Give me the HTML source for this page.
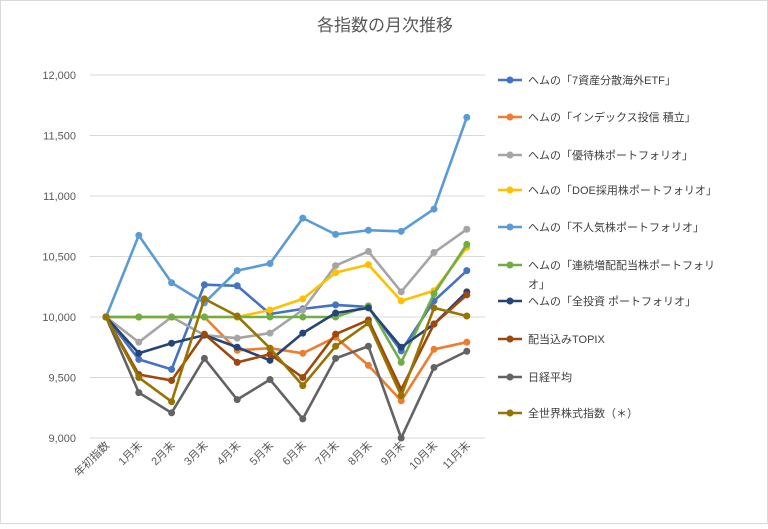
<!DOCTYPE html>
<html><head><meta charset="utf-8"><style>
body{margin:0;background:#fff}
svg text{font-family:"Liberation Sans","Noto Sans CJK JP",sans-serif}
</style></head><body>
<svg width="768" height="524" xmlns="http://www.w3.org/2000/svg">
<rect x="0.5" y="0.5" width="767" height="523" fill="#fff" stroke="#d9d9d9"/>
<text x="385" y="31" text-anchor="middle" font-size="17" fill="#595959">各指数の月次推移</text>
<g id="grid"></g><g id="xl"></g><g id="series"></g><g id="legend"></g>
</svg>
<script>
const categories=["年初指数","1月末","2月末","3月末","4月末","5月末","6月末","7月末","8月末","9月末","10月末","11月末"];
const yTicks=[9000,9500,10000,10500,11000,11500,12000];
const seriesNames=["ヘムの「7資産分散海外ETF」","ヘムの「インデックス投信 積立」","ヘムの「優待株ポートフォリオ」","ヘムの「DOE採用株ポートフォリオ」","ヘムの「不人気株ポートフォリオ」","ヘムの「連続増配配当株ポートフォリオ」","ヘムの「全投資 ポートフォリオ」","配当込みTOPIX","日経平均","全世界株式指数（＊）"];
const colors=["#4472C4","#ED7D31","#A5A5A5","#FFC000","#5B9BD5","#70AD47","#264478","#9E480E","#636363","#997300"];
const s0=[10000,9650,9567,10267,10258,10025,10067,10100,10083,9720,10133,10383];
const s1=[10000,10000,10000,10000,9725,9742,9700,9833,9600,9308,9733,9792];
const s2=[10000,9792,10000,9850,9825,9867,10058,10425,10542,10208,10533,10725];
const s3=[10000,10000,10000,10000,10000,10058,10150,10367,10433,10133,10217,10575];
const s4=[10000,10675,10283,10117,10383,10442,10817,10683,10717,10708,10892,11650];
const s5=[10000,10000,10000,10000,10000,10000,10000,10000,10092,9625,10192,10600];
const s6=[10000,9700,9783,9850,9750,9642,9867,10033,10075,9750,9942,10208];
const s7=[10000,9525,9475,9858,9625,9692,9500,9858,9975,9400,9942,10183];
const s8=[10000,9375,9208,9658,9317,9483,9158,9658,9758,9000,9583,9717];
const s9=[10000,9500,9300,10150,10008,9742,9433,9758,9950,9350,10075,10008];
const allSeries=[s0,s1,s2,s3,s4,s5,s6,s7,s8,s9];
const NS="http://www.w3.org/2000/svg";
function X(i){return 106+i*32.8;}
function Y(v){return 317-(v-10000)*0.121;}
function mk(t,a,p){const e=document.createElementNS(NS,t);for(const k in a)e.setAttribute(k,a[k]);p.appendChild(e);return e;}
const g=document.getElementById('grid');
yTicks.forEach(v=>{
 const l=mk('line',{x1:90,x2:485,y1:Y(v),y2:Y(v),stroke:'#d9d9d9','stroke-width':1},g);
 
 
 const t=mk('text',{x:76,y:Y(v)+4,'text-anchor':'end','font-size':11,fill:'#595959'},g);
 t.textContent=v.toLocaleString('en-US');
 
 
});
const xl=document.getElementById('xl');
categories.forEach((c,i)=>{
 const t=mk('text',{x:X(i)+4,y:446,'text-anchor':'end','font-size':11,fill:'#595959',transform:`rotate(-45 ${X(i)+4} 446)`},xl);
 t.textContent=c;
 
 
});
const sg=document.getElementById('series');
allSeries.forEach((s,k)=>{
 const grp=mk('g',{},sg);
 
 
 const p=mk('polyline',{points:s.map((v,i)=>X(i)+','+Y(v)).join(' '),fill:'none',stroke:colors[k],'stroke-width':2.6,'stroke-linejoin':'round'},grp);
 
 
 s.forEach((v,i)=>{
  const c=mk('circle',{cx:X(i),cy:Y(v),r:3.5,fill:colors[k]},grp);
  
  
 });
});
const lg=document.getElementById('legend');
const ly=[80,117,155,190,227,265,301,339,377,413];
seriesNames.forEach((n,k)=>{
 const grp=mk('g',{},lg);
 
 
 mk('line',{x1:498,x2:522,y1:ly[k],y2:ly[k],stroke:colors[k],'stroke-width':2.6},grp);
 mk('circle',{cx:510,cy:ly[k],r:3.5,fill:colors[k]},grp);
 const t=mk('text',{x:528,y:ly[k]+4,'font-size':11,fill:'#404040'},grp);
 if(k===5){
  t.textContent="ヘムの「連続増配配当株ポートフォリ";
  const t2=mk('text',{x:528,y:ly[k]+23,'font-size':11,fill:'#404040'},grp);
  t2.textContent="オ」";
 } else t.textContent=n;
});
</script>
</body></html>
